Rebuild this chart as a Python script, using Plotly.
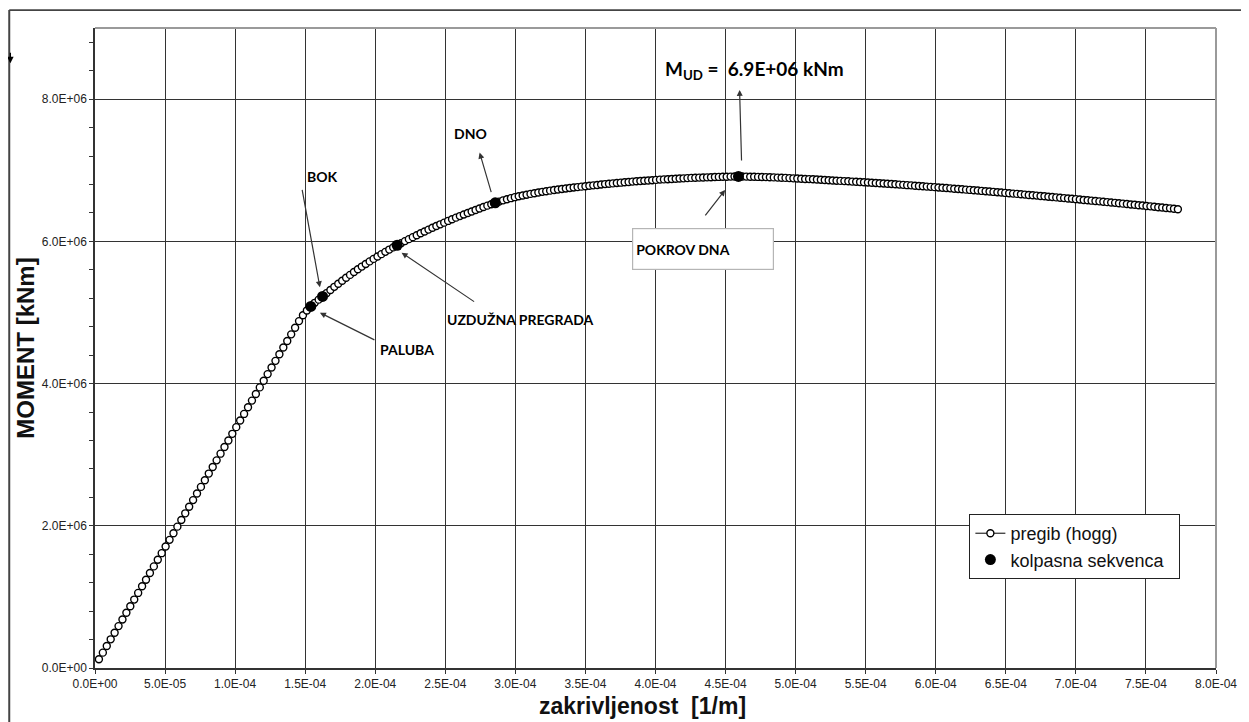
import plotly.graph_objects as go

# curvature [1/m] and bending moment [kNm]
kappa = [
    2.8e-6, 5.6e-6, 8.4e-6, 11.2e-6, 14.0e-6, 16.8e-6, 19.6e-6, 22.4e-6, 25.2e-6, 28.0e-6,
    30.8e-6, 33.6e-6, 36.4e-6, 39.2e-6, 42.0e-6, 44.8e-6, 47.6e-6, 50.4e-6, 53.2e-6, 56.0e-6,
    58.8e-6, 61.6e-6, 64.4e-6, 67.2e-6, 70.0e-6, 72.8e-6, 75.6e-6, 78.4e-6, 81.2e-6, 84.0e-6,
    86.8e-6, 89.6e-6, 92.4e-6, 95.2e-6, 98.0e-6, 100.8e-6, 103.6e-6, 106.4e-6, 109.2e-6, 112.0e-6,
    114.8e-6, 117.6e-6, 120.4e-6, 123.2e-6, 126.0e-6, 128.8e-6, 131.6e-6, 134.4e-6, 137.2e-6, 140.0e-6,
    142.8e-6, 145.6e-6, 148.4e-6, 151.2e-6, 154.0e-6, 156.8e-6, 159.6e-6, 162.4e-6, 165.2e-6, 168.0e-6,
    170.8e-6, 173.6e-6, 176.4e-6, 179.2e-6, 182.0e-6, 184.8e-6, 187.6e-6, 190.4e-6, 193.2e-6, 196.0e-6,
    198.8e-6, 201.6e-6, 204.4e-6, 207.2e-6, 210.0e-6, 212.8e-6, 215.6e-6, 218.4e-6, 221.2e-6, 224.0e-6,
    226.8e-6, 229.6e-6, 232.4e-6, 235.2e-6, 238.0e-6, 240.8e-6, 243.6e-6, 246.4e-6, 249.2e-6, 252.0e-6,
    254.8e-6, 257.6e-6, 260.4e-6, 263.2e-6, 266.0e-6, 268.8e-6, 271.6e-6, 274.4e-6, 277.2e-6, 280.0e-6,
    282.8e-6, 285.6e-6, 288.4e-6, 291.2e-6, 294.0e-6, 296.8e-6, 299.6e-6, 302.4e-6, 305.2e-6, 308.0e-6,
    310.8e-6, 313.6e-6, 316.4e-6, 319.2e-6, 322.0e-6, 324.8e-6, 327.6e-6, 330.4e-6, 333.2e-6, 336.0e-6,
    338.8e-6, 341.6e-6, 344.4e-6, 347.2e-6, 350.0e-6, 352.8e-6, 355.6e-6, 358.4e-6, 361.2e-6, 364.0e-6,
    366.8e-6, 369.6e-6, 372.4e-6, 375.2e-6, 378.0e-6, 380.8e-6, 383.6e-6, 386.4e-6, 389.2e-6, 392.0e-6,
    394.8e-6, 397.6e-6, 400.4e-6, 403.2e-6, 406.0e-6, 408.8e-6, 411.6e-6, 414.4e-6, 417.2e-6, 420.0e-6,
    422.8e-6, 425.6e-6, 428.4e-6, 431.2e-6, 434.0e-6, 436.8e-6, 439.6e-6, 442.4e-6, 445.2e-6, 448.0e-6,
    450.8e-6, 453.6e-6, 456.4e-6, 459.2e-6, 462.0e-6, 464.8e-6, 467.6e-6, 470.4e-6, 473.2e-6, 476.0e-6,
    478.8e-6, 481.6e-6, 484.4e-6, 487.2e-6, 490.0e-6, 492.8e-6, 495.6e-6, 498.4e-6, 501.2e-6, 504.0e-6,
    506.8e-6, 509.6e-6, 512.4e-6, 515.2e-6, 518.0e-6, 520.8e-6, 523.6e-6, 526.4e-6, 529.2e-6, 532.0e-6,
    534.8e-6, 537.6e-6, 540.4e-6, 543.2e-6, 546.0e-6, 548.8e-6, 551.6e-6, 554.4e-6, 557.2e-6, 560.0e-6,
    562.8e-6, 565.6e-6, 568.4e-6, 571.2e-6, 574.0e-6, 576.8e-6, 579.6e-6, 582.4e-6, 585.2e-6, 588.0e-6,
    590.8e-6, 593.6e-6, 596.4e-6, 599.2e-6, 602.0e-6, 604.8e-6, 607.6e-6, 610.4e-6, 613.2e-6, 616.0e-6,
    618.8e-6, 621.6e-6, 624.4e-6, 627.2e-6, 630.0e-6, 632.8e-6, 635.6e-6, 638.4e-6, 641.2e-6, 644.0e-6,
    646.8e-6, 649.6e-6, 652.4e-6, 655.2e-6, 658.0e-6, 660.8e-6, 663.6e-6, 666.4e-6, 669.2e-6, 672.0e-6,
    674.8e-6, 677.6e-6, 680.4e-6, 683.2e-6, 686.0e-6, 688.8e-6, 691.6e-6, 694.4e-6, 697.2e-6, 700.0e-6,
    702.8e-6, 705.6e-6, 708.4e-6, 711.2e-6, 714.0e-6, 716.8e-6, 719.6e-6, 722.4e-6, 725.2e-6, 728.0e-6,
    730.8e-6, 733.6e-6, 736.4e-6, 739.2e-6, 742.0e-6, 744.8e-6, 747.6e-6, 750.4e-6, 753.2e-6, 756.0e-6,
    758.8e-6, 761.6e-6, 764.4e-6, 767.2e-6, 770.0e-6, 772.8e-6,
]
moment = [
    0.123e6, 0.216e6, 0.310e6, 0.403e6, 0.496e6, 0.589e6, 0.683e6, 0.776e6, 0.869e6, 0.962e6,
    1.056e6, 1.149e6, 1.242e6, 1.335e6, 1.429e6, 1.522e6, 1.615e6, 1.708e6, 1.802e6, 1.895e6,
    1.988e6, 2.081e6, 2.175e6, 2.268e6, 2.361e6, 2.454e6, 2.547e6, 2.641e6, 2.734e6, 2.827e6,
    2.920e6, 3.014e6, 3.107e6, 3.200e6, 3.293e6, 3.387e6, 3.480e6, 3.573e6, 3.666e6, 3.760e6,
    3.853e6, 3.946e6, 4.039e6, 4.133e6, 4.226e6, 4.319e6, 4.412e6, 4.506e6, 4.599e6, 4.692e6,
    4.785e6, 4.878e6, 4.960e6, 5.028e6, 5.085e6, 5.135e6, 5.180e6, 5.225e6, 5.271e6, 5.316e6,
    5.360e6, 5.403e6, 5.445e6, 5.487e6, 5.528e6, 5.568e6, 5.607e6, 5.645e6, 5.682e6, 5.718e6,
    5.753e6, 5.787e6, 5.820e6, 5.852e6, 5.884e6, 5.915e6, 5.945e6, 5.974e6, 6.003e6, 6.031e6,
    6.059e6, 6.086e6, 6.113e6, 6.139e6, 6.165e6, 6.190e6, 6.215e6, 6.239e6, 6.263e6, 6.287e6,
    6.310e6, 6.333e6, 6.355e6, 6.377e6, 6.399e6, 6.420e6, 6.441e6, 6.462e6, 6.482e6, 6.502e6,
    6.522e6, 6.541e6, 6.559e6, 6.576e6, 6.592e6, 6.607e6, 6.621e6, 6.633e6, 6.645e6, 6.656e6,
    6.667e6, 6.677e6, 6.687e6, 6.696e6, 6.705e6, 6.713e6, 6.721e6, 6.729e6, 6.736e6, 6.743e6,
    6.750e6, 6.757e6, 6.763e6, 6.769e6, 6.775e6, 6.781e6, 6.787e6, 6.793e6, 6.799e6, 6.805e6,
    6.810e6, 6.815e6, 6.820e6, 6.825e6, 6.830e6, 6.835e6, 6.840e6, 6.844e6, 6.848e6, 6.852e6,
    6.856e6, 6.860e6, 6.864e6, 6.868e6, 6.871e6, 6.874e6, 6.877e6, 6.880e6, 6.883e6, 6.886e6,
    6.889e6, 6.892e6, 6.894e6, 6.896e6, 6.898e6, 6.900e6, 6.902e6, 6.904e6, 6.906e6, 6.908e6,
    6.909e6, 6.910e6, 6.911e6, 6.912e6, 6.911e6, 6.910e6, 6.909e6, 6.908e6, 6.906e6, 6.904e6,
    6.903e6, 6.901e6, 6.899e6, 6.896e6, 6.894e6, 6.892e6, 6.889e6, 6.886e6, 6.883e6, 6.880e6,
    6.877e6, 6.875e6, 6.872e6, 6.869e6, 6.866e6, 6.863e6, 6.859e6, 6.856e6, 6.853e6, 6.850e6,
    6.847e6, 6.844e6, 6.840e6, 6.837e6, 6.834e6, 6.830e6, 6.827e6, 6.823e6, 6.820e6, 6.816e6,
    6.813e6, 6.809e6, 6.806e6, 6.802e6, 6.798e6, 6.794e6, 6.790e6, 6.787e6, 6.782e6, 6.778e6,
    6.774e6, 6.770e6, 6.766e6, 6.762e6, 6.758e6, 6.753e6, 6.749e6, 6.745e6, 6.740e6, 6.736e6,
    6.732e6, 6.727e6, 6.723e6, 6.718e6, 6.714e6, 6.709e6, 6.704e6, 6.700e6, 6.695e6, 6.690e6,
    6.686e6, 6.681e6, 6.676e6, 6.671e6, 6.667e6, 6.662e6, 6.657e6, 6.652e6, 6.647e6, 6.643e6,
    6.638e6, 6.633e6, 6.628e6, 6.623e6, 6.618e6, 6.613e6, 6.608e6, 6.603e6, 6.598e6, 6.593e6,
    6.588e6, 6.582e6, 6.577e6, 6.572e6, 6.567e6, 6.562e6, 6.556e6, 6.551e6, 6.546e6, 6.541e6,
    6.535e6, 6.530e6, 6.524e6, 6.519e6, 6.514e6, 6.508e6, 6.503e6, 6.497e6, 6.492e6, 6.486e6,
    6.480e6, 6.475e6, 6.469e6, 6.464e6, 6.458e6, 6.452e6,
]

# collapse sequence: paluba, bok, uzduzna pregrada, dno, pokrov dna
collapse_kappa = [154.0e-6, 162.4e-6, 215.6e-6, 285.6e-6, 459.2e-6]
collapse_moment = [5.085e6, 5.225e6, 5.945e6, 6.541e6, 6.912e6]

x_tick_vals = [0, 5e-5, 1e-4, 1.5e-4, 2e-4, 2.5e-4, 3e-4, 3.5e-4, 4e-4,
               4.5e-4, 5e-4, 5.5e-4, 6e-4, 6.5e-4, 7e-4, 7.5e-4, 8e-4]
x_tick_text = ["0.0E+00", "5.0E-05", "1.0E-04", "1.5E-04", "2.0E-04", "2.5E-04",
               "3.0E-04", "3.5E-04", "4.0E-04", "4.5E-04", "5.0E-04", "5.5E-04",
               "6.0E-04", "6.5E-04", "7.0E-04", "7.5E-04", "8.0E-04"]
y_tick_vals = [0, 2e6, 4e6, 6e6, 8e6]
y_tick_text = ["0.0E+00", "2.0E+06", "4.0E+06", "6.0E+06", "8.0E+06"]

AX = "Liberation Sans, Arial, sans-serif"
LBL = "Lato, Open Sans, sans-serif"
GRID = "#333333"

fig = go.Figure()
fig.add_trace(go.Scatter(
    x=kappa, y=moment, mode="lines+markers", name="pregib (hogg)",
    line=dict(color="black", width=1),
    marker=dict(symbol="circle", size=7, color="white",
                line=dict(color="black", width=1.4)),
))
fig.add_trace(go.Scatter(
    x=collapse_kappa, y=collapse_moment, mode="markers",
    name="kolpasna sekvenca\u00a0\u00a0",
    marker=dict(symbol="circle", size=11, color="black"),
))

# label texts
labels = [
    ("<b>BOK</b>", 1.622e-4, 6.91e6, 14),
    ("<b>PALUBA</b>", 2.228e-4, 4.482e6, 14),
    ("<b>UZDUŽNA PREGRADA</b>", 3.035e-4, 4.895e6, 14),
    ("<b>DNO</b>", 2.679e-4, 7.511e6, 14),
    ("<b>M<sub>UD</sub> =  6.9E+06 kNm</b>", 4.706e-4, 8.41e6, 19),
]
ann = []
for txt, ax_, ay_, fs in labels:
    ann.append(dict(x=ax_, y=ay_, xref="x", yref="y", text=txt, showarrow=False,
                    font=dict(family=LBL, size=fs, color="black")))

ann.append(dict(x=4.342e-4, y=5.893e6, xref="x", yref="y", text="<b>POKROV DNA</b>",
                showarrow=False, align="left", width=134, height=34,
                bgcolor="white", bordercolor="#b5b5b5", borderwidth=1.2, borderpad=3,
                font=dict(family=LBL, size=14, color="black")))

# x axis title placed a little left of centre, as in the original
ann.append(dict(x=0.488, y=-0.059, xref="paper", yref="paper",
                xanchor="center", yanchor="middle",
                text="<b>zakrivljenost \u00a0[1/m]</b>", showarrow=False,
                font=dict(family=AX, size=23, color="#111")))

# arrows: head in data space, tail as pixel offset
arrows = [
    (1.605e-4, 5.354e6, -18, -99),
    (1.605e-4, 4.997e6, 56, 28),
    (2.188e-4, 5.841e6, 74, 50),
    (2.745e-4, 7.248e6, 12, 41),
    (4.600e-4, 8.129e6, 2, 72),
    (4.497e-4, 6.723e6, -21, 27),
]
for hx, hy, dx, dy in arrows:
    ann.append(dict(x=hx, y=hy, xref="x", yref="y", ax=dx, ay=dy, text="",
                    showarrow=True, arrowhead=2, arrowsize=1, arrowwidth=1.2,
                    arrowcolor="#333"))

# small arrow mark on the outer frame
ann.append(dict(x=-0.0755, y=0.945, xref="paper", yref="paper", ax=0, ay=-12,
                text="", showarrow=True, arrowhead=2, arrowsize=1,
                arrowwidth=1.3, arrowcolor="black"))

shapes = [
    # top and right border of plot area
    dict(type="line", xref="paper", yref="paper", x0=0, x1=1, y0=1, y1=1,
         line=dict(color="#9a9a9a", width=2)),
    dict(type="line", xref="paper", yref="paper", x0=1, x1=1, y0=0, y1=1,
         line=dict(color="#9a9a9a", width=2)),
    # outer frame
    dict(type="line", xref="paper", yref="paper", x0=-0.0765, x1=1.03, y0=1.028, y1=1.028,
         line=dict(color="#444", width=1.6)),
    dict(type="line", xref="paper", yref="paper", x0=-0.0765, x1=-0.0765, y0=-0.09, y1=1.028,
         line=dict(color="#444", width=2)),
]

# page body keeps an 8px margin, so the figure is 8px smaller each way
fig.update_layout(
    width=1241, height=714,
    margin=dict(l=87, r=30, t=20, b=54),
    paper_bgcolor="white", plot_bgcolor="white",
    font=dict(family=AX, size=12, color="#222"),
    showlegend=True,
    legend=dict(x=0.78, y=0.2406, xanchor="left", yanchor="top",
                bgcolor="white", bordercolor="#222", borderwidth=1,
                font=dict(family=AX, size=18, color="#111")),
    annotations=ann,
    shapes=shapes,
)
fig.update_xaxes(
    range=[0, 8e-4], tickvals=x_tick_vals, ticktext=x_tick_text,
    showgrid=True, gridcolor=GRID, gridwidth=1.4,
    showline=True, linecolor="#333", linewidth=1.5,
    ticks="outside", ticklen=4, tickcolor="#333",
    tickfont=dict(family=AX, size=12, color="#222"),
    zeroline=False,
)
fig.update_yaxes(
    range=[0, 9e6], tickvals=y_tick_vals, ticktext=y_tick_text,
    showgrid=True, gridcolor=GRID, gridwidth=1.4,
    showline=True, linecolor="#333", linewidth=1.5,
    ticks="outside", ticklen=4, tickcolor="#333",
    minor=dict(tickmode="linear", tick0=0, dtick=4e5, ticks="outside",
               ticklen=4, tickcolor="#333", showgrid=False),
    tickfont=dict(family=AX, size=12, color="#222"),
    zeroline=False,
    title=dict(text="<b>MOMENT [kNm]</b>",
               font=dict(family=AX, size=24, color="#111"), standoff=0),
)

fig.write_html("out.html")
